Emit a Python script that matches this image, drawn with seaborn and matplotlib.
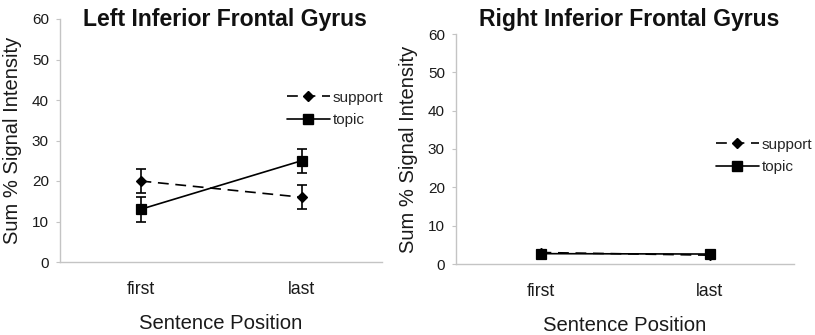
import numpy as np
import pandas as pd
import matplotlib
matplotlib.use("Agg")
import matplotlib.pyplot as plt
import seaborn as sns
from matplotlib.lines import Line2D

positions = ["first", "last"]
conditions = ["support", "topic"]

left_support = [20.0, 16.0]
left_topic = [13.0, 25.0]
left_support_err = [3.0, 3.0]
left_topic_err = [3.0, 3.0]

right_support = [3.0, 2.3]
right_topic = [2.7, 2.6]
right_support_err = [0.5, 0.5]
right_topic_err = [0.5, 0.5]

yticks = [0, 10, 20, 30, 40, 50, 60]

sns.set_theme(style="white")
plt.rcParams['font.family'] = ['Liberation Sans', 'DejaVu Sans']

fig = plt.figure(figsize=(8.15, 3.35), dpi=100)
ax1 = fig.add_axes([60/815, 1-262/335, (382-60)/815, (262-19)/335])
ax2 = fig.add_axes([456/815, 1-264/335, (794-456)/815, (264-34)/335])

DASH = (0, (6.5, 4))

def draw(ax, sup, top, sup_err, top_err, title, title_x, leg_anchor):
    df = pd.DataFrame({
        "position": positions * 2,
        "value": sup + top,
        "condition": ["support"] * 2 + ["topic"] * 2,
    })
    sns.pointplot(data=df, x="position", y="value", hue="condition",
                  hue_order=conditions, order=positions,
                  palette=["black", "black"], markers=["D", "s"],
                  linestyles=[DASH, "-"], errorbar=None, ax=ax,
                  markersize=7, linewidth=1.2, legend=False)
    for vals, errs in [(sup, sup_err), (top, top_err)]:
        ax.errorbar(range(len(positions)), vals, yerr=errs, fmt="none",
                    ecolor="black", elinewidth=1.2, capsize=3.5, capthick=1.2)
    for ln in ax.lines:
        if ln.get_marker() == "D":
            ln.set_markersize(5.5)
            ln.set_linestyle(DASH)
        if ln.get_marker() == "s":
            ln.set_markersize(7)
    ax.set_xlim(-0.5, 1.5)
    ax.set_ylim(0, 60)
    ax.set_yticks(yticks)
    ax.set_yticklabels([str(t) for t in yticks], fontsize=11, color="#1a1a1a")
    ax.tick_params(axis="y", left=True, length=3, width=0.8, color="#c4c4c4",
                   direction="out", pad=5)
    ax.tick_params(axis="x", length=0, pad=14, labelsize=12.7, labelcolor="#1a1a1a")
    ax.set_xlabel("Sentence Position", fontsize=14.6, color="#1a1a1a", labelpad=11)
    ax.set_ylabel("Sum % Signal Intensity", fontsize=14.5, color="#1a1a1a", labelpad=7)
    for s in ["top", "right"]:
        ax.spines[s].set_visible(False)
    for s in ["left", "bottom"]:
        ax.spines[s].set_color("#c4c4c4")
        ax.spines[s].set_linewidth(1.0)
    ax.set_facecolor("white")
    handles = [
        Line2D([], [], color="black", linestyle=DASH, linewidth=1.2,
               marker="D", markersize=5.5),
        Line2D([], [], color="black", linestyle="-", linewidth=1.2,
               marker="s", markersize=7),
    ]
    ax.legend(handles, conditions, frameon=False, fontsize=11,
              loc="center left", bbox_to_anchor=leg_anchor,
              bbox_transform=fig.transFigure, handlelength=2.8,
              handletextpad=0.2, labelspacing=0.55, borderaxespad=0,
              borderpad=0)
    fig.text(title_x, 1 - 26/335, title, ha="center", va="baseline",
             fontsize=16.6, fontweight="bold", color="#111111")

draw(ax1, left_support, left_topic, left_support_err, left_topic_err,
     "Left Inferior Frontal Gyrus", 225/815, (287/815, 1 - 109/335))
draw(ax2, right_support, right_topic, right_support_err, right_topic_err,
     "Right Inferior Frontal Gyrus", 629/815, (716/815, 1 - 156/335))

fig.savefig("out.png", dpi=100, facecolor="white")
